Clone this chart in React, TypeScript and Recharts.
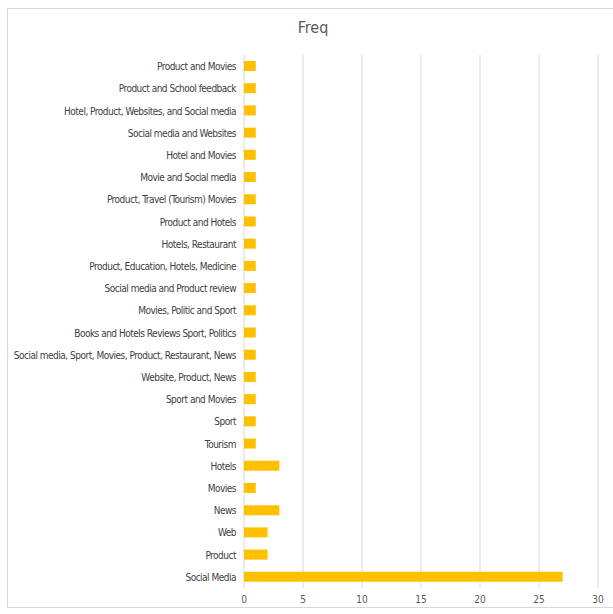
import { BarChart, Bar, XAxis, YAxis, CartesianGrid } from 'recharts'

const categories = [
  'Product and Movies',
  'Product and School feedback',
  'Hotel, Product, Websites, and Social media',
  'Social media and Websites',
  'Hotel and Movies',
  'Movie and Social media',
  'Product, Travel (Tourism) Movies',
  'Product and Hotels',
  'Hotels, Restaurant',
  'Product, Education, Hotels, Medicine',
  'Social media and Product review',
  'Movies, Politic and Sport',
  'Books and Hotels Reviews Sport, Politics',
  'Social media, Sport, Movies, Product, Restaurant, News',
  'Website, Product, News',
  'Sport and Movies',
  'Sport',
  'Tourism',
  'Hotels',
  'Movies',
  'News',
  'Web',
  'Product',
  'Social Media',
]

const freq = [1, 1, 1, 1, 1, 1, 1, 1, 1, 1, 1, 1, 1, 1, 1, 1, 1, 1, 3, 1, 3, 2, 2, 27]

const xTicks = [0, 5, 10, 15, 20, 25, 30]

const data = categories.map((name, i) => ({ name, freq: freq[i] }))

const font = '"DejaVu Sans Condensed", "DejaVu Sans", sans-serif'

// single-line category label (recharts would wrap the long ones)
function CategoryTick(props: any) {
  const { x, y, payload } = props
  return (
    <text
      x={x}
      y={y}
      dy={4}
      textAnchor="end"
      fill="#404040"
      fontSize={10}
      fontFamily={font}
      letterSpacing={-0.5}
      style={{ fontStretch: 'condensed' }}
    >
      {payload.value}
    </text>
  )
}

export default function App() {
  return (
    <div style={{ position: 'absolute', left: 0, top: 0, width: 613, height: 614, overflow: 'hidden', background: '#fff' }}>
      <div
        style={{
          position: 'absolute',
          left: 7,
          top: 8,
          width: 620,
          height: 598,
          border: '1px solid #d9d9d9',
        }}
      />
      <div
        style={{
          position: 'absolute',
          left: 0,
          width: 626,
          top: 18,
          textAlign: 'center',
          fontFamily: font,
          fontStretch: 'condensed',
          fontSize: 16,
          color: '#595959',
        }}
      >
        Freq
      </div>
      <div style={{ position: 'absolute', left: 0, top: 0 }}>
        <BarChart
          width={613}
          height={614}
          data={data}
          layout="vertical"
          margin={{ top: 55, right: 15, bottom: 0, left: 0 }}
          barSize={10}
        >
          <CartesianGrid horizontal={false} stroke="#d9d9d9" strokeWidth={1} />
          <XAxis
            type="number"
            domain={[0, 30]}
            ticks={xTicks}
            axisLine={false}
            tickLine={false}
            height={26}
            tick={{ fill: '#595959', fontSize: 10, fontFamily: font, style: { fontStretch: 'condensed' } }}
          />
          <YAxis
            type="category"
            dataKey="name"
            width={244}
            axisLine={false}
            tickLine={false}
            interval={0}
            tick={<CategoryTick />}
          />
          <Bar dataKey="freq" fill="#FFC000" isAnimationActive={false} />
        </BarChart>
      </div>
    </div>
  )
}
